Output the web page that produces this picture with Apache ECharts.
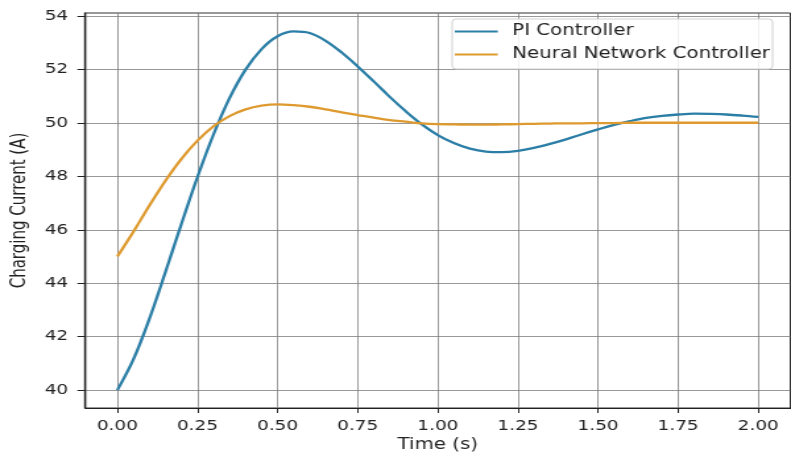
<!DOCTYPE html>
<html>
<head>
<meta charset="utf-8">
<script src="https://cdn.jsdelivr.net/npm/echarts@6/dist/echarts.min.js"></script>
<style>
  html, body { margin: 0; padding: 0; background: #fff; overflow: hidden; }
  #wrap { width: 791px; height: 458px; overflow: hidden; }
  #chart { width: 600px; height: 458px; transform: scaleX(1.3183); transform-origin: 0 0; }
</style>
</head>
<body>
<div id="wrap"><div id="chart"></div></div>
<script>
// Time samples (s)
const times = [0.00,0.05,0.10,0.15,0.20,0.25,0.30,0.35,0.40,0.45,0.50,0.55,0.60,0.65,0.70,0.75,0.80,0.85,0.90,0.95,
               1.00,1.05,1.10,1.15,1.20,1.25,1.30,1.35,1.40,1.45,1.50,1.55,1.60,1.65,1.70,1.75,1.80,1.85,1.90,1.95,2.00];
// PI Controller charging current (A)
const piCurrent = [40.00,41.15,42.67,44.42,46.23,47.98,49.57,50.93,52.00,52.77,53.25,53.43,53.37,53.08,52.64,52.12,51.56,50.98,50.44,49.95,
                   49.55,49.25,49.04,48.93,48.91,48.96,49.07,49.22,49.39,49.58,49.76,49.93,50.07,50.19,50.27,50.32,50.35,50.34,50.32,50.28,50.23];
// Neural Network Controller charging current (A)
const nnCurrent = [45.00,45.93,46.91,47.84,48.66,49.34,49.88,50.26,50.51,50.65,50.70,50.67,50.61,50.51,50.40,50.30,50.20,50.11,50.05,49.99,
                   49.96,49.95,49.94,49.94,49.95,49.96,49.97,49.98,49.99,49.99,50.00,50.00,50.01,50.01,50.01,50.01,50.01,50.01,50.01,50.01,50.01];
// Tick labels
const xTicks = [0.00,0.25,0.50,0.75,1.00,1.25,1.50,1.75,2.00];
const yTicks = [40,42,44,46,48,50,52,54];

const seriesNames = ['PI Controller', 'Neural Network Controller'];
const seriesColors = ['#2b7ea6', '#de9a2f'];

const chart = echarts.init(document.getElementById('chart'), null, { renderer: 'canvas' });
const font = 'DejaVu Sans';
const gridLine = { show: true, lineStyle: { color: '#7d7d7d', width: 0.8 } };

chart.setOption({
  animation: false,
  backgroundColor: '#fff',
  textStyle: { fontFamily: font, color: '#222' },
  grid: { left: 61, right: 0.5, top: 13, bottom: 49, show: true, borderColor: '#333', borderWidth: 1 },
  legend: {
    data: seriesNames,
    orient: 'vertical',
    left: 343, top: 19,
    icon: 'rect', itemWidth: 32.6, itemHeight: 2, itemGap: 6,
    padding: [4, 2, 6, 2],
    borderColor: '#d0d0d0', borderWidth: 1, borderRadius: 3,
    backgroundColor: 'rgba(255,255,255,0.85)',
    textStyle: { fontFamily: font, fontSize: 15, color: '#222', lineHeight: 17, padding: [0, 0, 0, 6] }
  },
  xAxis: {
    type: 'value', min: -0.1, max: 2.1,
    name: 'Time (s)', nameLocation: 'middle', nameGap: 30,
    nameTextStyle: { fontFamily: font, fontSize: 15, color: '#222' },
    axisLine: { show: true, onZero: false, lineStyle: { color: '#222', width: 1.2 } },
    axisTick: { show: true, length: 5, customValues: xTicks, lineStyle: { color: '#222' } },
    axisLabel: { customValues: xTicks, margin: 11, fontSize: 14, color: '#222', fontFamily: font,
                 formatter: v => v.toFixed(2) },
    splitLine: Object.assign({ customValues: xTicks }, gridLine)
  },
  yAxis: {
    type: 'value', min: 39.33, max: 54.12,
    name: 'Charging Current (A)', nameLocation: 'middle', nameGap: 36, nameRotate: 90,
    nameTextStyle: { fontFamily: font, fontSize: 15, color: '#222' },
    axisLine: { show: true, onZero: false, lineStyle: { color: '#222', width: 1.4 } },
    axisTick: { show: true, length: 6, customValues: yTicks, lineStyle: { color: '#222' } },
    axisLabel: { customValues: yTicks, margin: 13, fontSize: 14, color: '#222', fontFamily: font,
                 formatter: v => String(Math.round(v)) },
    splitLine: Object.assign({ customValues: yTicks }, gridLine)
  },
  series: seriesNames.map((name, i) => ({
    name: name,
    type: 'line',
    data: times.map((t, k) => [t, (i === 0 ? piCurrent : nnCurrent)[k]]),
    showSymbol: false,
    smooth: 0.35,
    color: seriesColors[i],
    lineStyle: { color: seriesColors[i], width: 2.3, join: 'round' }
  }))
});
</script>
</body>
</html>
